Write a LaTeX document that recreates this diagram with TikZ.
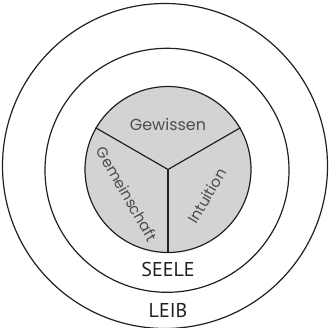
\documentclass[tikz,border=0pt]{standalone}
\usepackage{fontspec}
\newfontfamily\gothic{Poppins}
\newfontfamily\narrowsans{PT Sans}
\definecolor{ink}{HTML}{231F20}
\definecolor{soulgray}{HTML}{D3D3D4}
\definecolor{labelgray}{HTML}{4D4D4F}
\tikzset{
  ring/.style={draw=ink, line width=1.2pt, circle, inner sep=0pt},
  spoke/.style={draw=ink, line width=1.2pt},
  innerlabel/.style={text=labelgray, font=\gothic\fontsize{15}{17}\selectfont, inner sep=0pt},
  ringlabel/.style={text=ink, font=\narrowsans\fontsize{20}{22}\selectfont, inner sep=0pt}
}
\begin{document}
\begin{tikzpicture}[x=1pt, y=-1pt]
\useasboundingbox (0,0) rectangle (329,327);
\node[ring, minimum size=325pt] (leib) at (165,166) {};
\node[ring, minimum size=244pt] (seele) at (167,170.3) {};
\node[ring, fill=soulgray, minimum size=166pt] (core) at (168,169.5) {};
\coordinate (hub) at (168,169.5);
\draw[spoke] (hub) -- (core.150);
\draw[spoke] (hub) -- (core.30);
\draw[spoke] (hub) -- (core.270);
\node[innerlabel, font=\gothic\fontsize{16}{18}\selectfont] (gew) at (168,124) {Gewissen};
\node[innerlabel, rotate=-60] (gem) at (127,194) {Gemeinschaft};
\node[innerlabel, rotate=60] (int) at (207,196) {Intuition};
\node[ringlabel] (seeletext) at (168,269) {SEELE};
\node[ringlabel] (leibtext) at (168,310.5) {LEIB};
\end{tikzpicture}
\end{document}
